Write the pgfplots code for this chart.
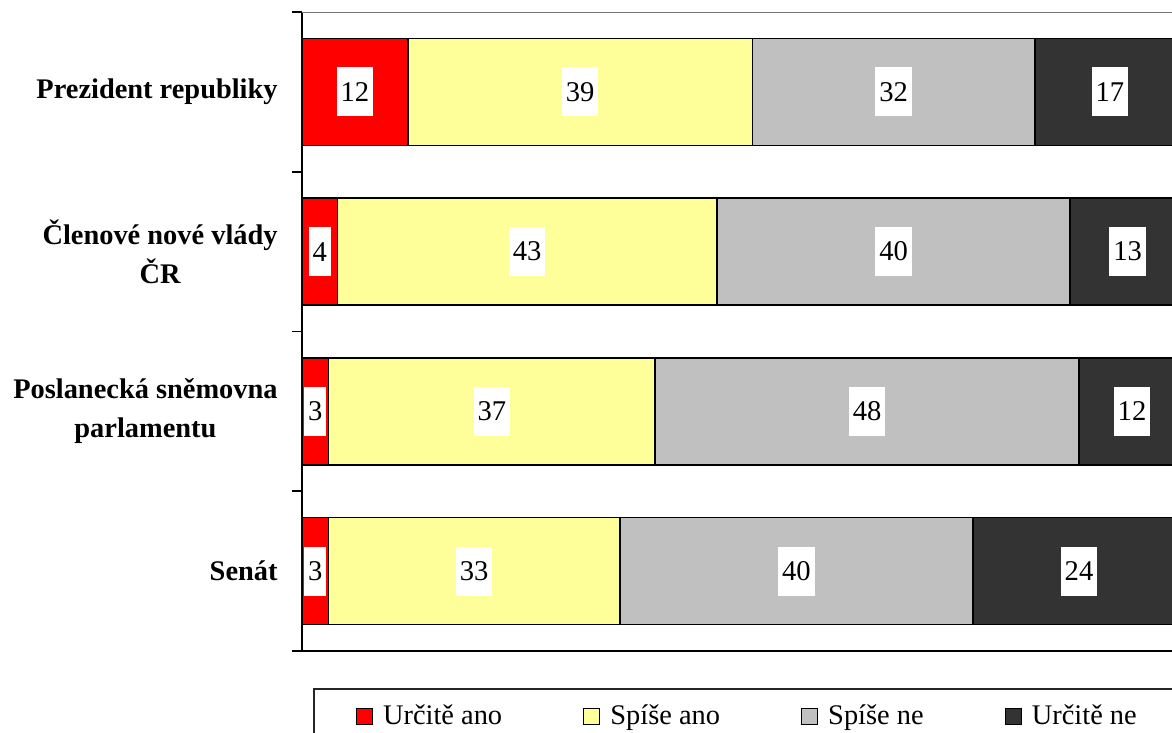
\documentclass[border=0pt]{standalone}
\usepackage{pgfplots}
\pgfplotsset{compat=1.18}
\usepackage{pgfplotstable}
\usepackage{fontspec}
\setmainfont{Liberation Serif}
\definecolor{cred}{HTML}{FF0000}
\definecolor{cyel}{HTML}{FFFF99}
\definecolor{cgray}{HTML}{C0C0C0}
\definecolor{cdark}{HTML}{333333}
\pgfplotstableread{
y a b c d
3 12 39 32 17
2 4 43 40 13
1 3 37 48 12
0 3 33 40 24
}\data
\begin{document}
\begin{tikzpicture}
\begin{axis}[
 name=ax,
 width=441.5pt, height=319.5pt, scale only axis,
 xbar stacked, bar width=53.5pt,
 xmin=0, xmax=100,
 ymin=-0.5, ymax=3.5,
 /pgf/number format/assume math mode=true,
 axis x line*=bottom, axis y line*=left,
 x axis line style={line width=0.9pt, black},
 y axis line style={line width=1.2pt, black},
 xtick=\empty,
 ytick={0,1,2,3},
 yticklabels={Senát, {Poslanecká sněmovna\\parlamentu}, {Členové nové vlády\\ČR}, Prezident republiky},
 major tick length=0pt,
 minor ytick={-0.5,0.5,1.5,2.5,3.5},
 minor tick length=5pt,
 tick align=outside,
 minor tick style={black, line width=0.8pt},
 yticklabel style={align=center, font=\bfseries\fontsize{14.2}{19.5}\selectfont, inner sep=0pt, xshift=-12pt},
 nodes near coords,
 every node near coord/.append style={fill=white, text=black, font=\fontsize{14.3}{16}\selectfont, inner xsep=2pt, minimum height=24.5pt, anchor=center},
 legend style={at={(0.0125,-0.0579)}, anchor=north west, legend columns=4, draw=black!85, line width=0.9pt,
   font=\fontsize{14.2}{16}\selectfont, inner xsep=21pt, inner ysep=6pt,
   nodes={inner xsep=0pt},
   /tikz/every odd column/.append style={column sep=5pt},
   /tikz/every even column/.append style={column sep=40.5pt}},
 legend image code/.code={\draw[#1, draw=black, line width=0.6pt] (0pt,-4pt) rectangle (8pt,4pt);},
]
\addplot[fill=cred, draw=black, line width=0.8pt] table[x=a, y=y] {\data};
\addplot[fill=cyel, draw=black, line width=0.8pt] table[x=b, y=y] {\data};
\addplot[fill=cgray, draw=black, line width=0.8pt] table[x=c, y=y] {\data};
\addplot[fill=cdark, draw=black, line width=0.8pt] table[x=d, y=y] {\data};
\legend{Určitě ano, Spíše ano, Spíše ne, Určitě ne}
\draw[black!55, line width=0.9pt] (rel axis cs:0,1) -- (rel axis cs:1,1);
\end{axis}
\pgfresetboundingbox
\path ([shift={(-151pt,-41pt)}]ax.south west) rectangle ([shift={(435pt,6pt)}]ax.north west);
\end{tikzpicture}
\end{document}
